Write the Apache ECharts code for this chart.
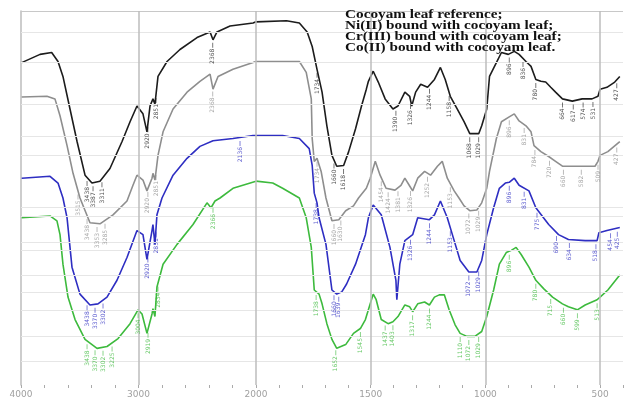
<!DOCTYPE html>
<html><head><meta charset="utf-8">
<script src="https://cdn.jsdelivr.net/npm/echarts@6/dist/echarts.min.js"></script>
<style>html,body{margin:0;padding:0;background:#fff}#c{width:626px;height:399px}</style>
</head><body><div id="c"></div>
<script>
// ---- data (wavenumber cm-1, transmittance arbitrary offset units) ----
const blackWn = [3994,3838,3739,3685,3643,3583,3523,3455,3396,3328,3243,3140,3072,3013,2962,2928,2902,2877,2860,2834,2757,2647,2502,2391,2366,2332,2221,2025,2000,1867,1811,1777,1755,1734,1712,1691,1669,1648,1618,1596,1566,1540,1519,1510,1489,1467,1437,1403,1381,1351,1330,1321,1304,1282,1252,1222,1196,1175,1153,1123,1093,1068,1029,1016,994,982,952,930,900,874,853,823,801,780,758,737,715,694,664,621,578,535,509,500,470,436,414];
const blackT  = [86.2,88.4,88.9,86.5,82.5,73.8,65.1,56.1,54.0,54.5,57.9,65.1,70.4,74.6,72.5,67.7,74.6,76.5,75.1,82.5,86.5,89.7,92.9,94.4,92.3,94.4,96.0,96.8,97.1,97.4,96.8,94.4,90.5,84.4,78.3,69.3,61.4,58.5,58.7,62.4,68.5,74.6,79.1,81.2,83.9,81.0,76.5,73.8,74.6,78.3,77.2,74.6,78.3,80.4,79.6,81.7,84.9,81.7,77.2,73.8,70.4,67.2,67.2,69.3,73.8,82.5,86.2,88.9,88.4,89.2,88.4,86.5,85.2,81.7,81.2,81.0,79.6,78.3,76.5,75.9,76.5,76.5,77.2,79.1,79.6,81.0,82.5];
const blackPk = [3438,3387,3311,2920,2851,2368,1734,1660,1618,1390,1326,1244,1158,1068,1029,896,836,780,664,617,574,531,427];

const grayWn = [3994,3779,3711,3668,3608,3557,3498,3413,3328,3217,3098,3047,3013,2962,2928,2885,2877,2860,2834,2791,2706,2587,2477,2391,2366,2323,2196,2025,2000,1897,1811,1781,1759,1755,1746,1734,1716,1695,1669,1639,1609,1575,1553,1519,1502,1480,1459,1433,1394,1368,1351,1330,1317,1295,1265,1239,1209,1188,1166,1136,1115,1093,1068,1037,1016,994,982,952,930,896,874,853,823,801,788,758,724,694,664,595,522,509,500,466,414];
const grayT  = [77.0,77.2,76.5,72.0,64.0,56.6,50.0,43.4,43.1,45.5,49.2,53.4,56.1,54.8,51.9,55.3,56.6,54.8,61.4,67.7,73.8,78.3,81.2,83.1,79.1,82.5,84.4,86.2,86.5,86.5,86.5,83.6,76.5,65.9,59.8,60.6,57.1,50.0,43.9,44.2,46.6,47.9,50.0,52.6,55.3,59.8,56.1,52.6,52.1,53.4,55.3,53.2,51.9,55.3,57.1,56.1,58.5,59.8,55.3,51.9,50.0,47.9,46.6,46.8,48.7,52.6,57.1,65.9,70.4,71.7,72.5,70.6,69.3,67.7,64.0,62.4,61.1,59.8,58.5,58.5,58.5,59.8,61.4,62.4,65.1];
const grayPk = [3515,3438,3353,3285,2920,2851,2368,1734,1660,1630,1454,1424,1381,1326,1252,1153,1072,1029,896,831,784,720,660,582,509,427];

const blueWn = [3994,3753,3685,3643,3608,3566,3498,3413,3345,3268,3183,3098,3013,2962,2928,2885,2877,2860,2843,2800,2706,2587,2477,2366,2196,2025,2000,1884,1811,1768,1755,1746,1734,1725,1695,1669,1648,1626,1605,1566,1523,1510,1489,1454,1416,1390,1386,1373,1351,1317,1295,1244,1222,1196,1166,1136,1110,1072,1037,1016,994,964,939,913,896,874,853,810,780,724,681,638,565,513,505,470,414];
const blueT  = [55.3,55.8,54.0,50.0,44.7,31.5,24.3,21.4,21.7,23.5,28.0,34.1,41.3,40.2,33.6,41.3,42.9,37.6,45.5,50.0,56.1,60.6,63.8,65.3,65.9,66.7,66.7,66.7,65.9,63.2,58.7,51.3,48.7,44.7,37.6,25.4,24.3,24.9,27.0,32.3,40.2,44.7,48.1,45.5,36.8,28.0,22.8,32.3,38.6,40.2,44.7,44.2,45.5,49.2,44.7,38.6,33.3,30.2,30.2,33.3,40.2,47.4,52.6,54.0,54.2,55.3,53.4,51.9,47.4,42.9,40.2,38.9,38.6,38.6,40.7,41.3,42.1];
const bluePk = [3438,3370,3302,2920,2851,2136,1738,1660,1639,1326,1244,1153,1072,1029,896,831,775,690,634,518,454,425];

const greenWn = [3994,3753,3694,3668,3643,3600,3540,3455,3353,3268,3174,3072,3004,2970,2928,2885,2877,2860,2843,2791,2672,2536,2417,2383,2349,2306,2196,2000,1927,1884,1811,1781,1759,1746,1725,1712,1691,1669,1648,1609,1575,1545,1523,1502,1489,1476,1454,1424,1403,1381,1351,1330,1317,1295,1265,1244,1222,1201,1179,1158,1132,1110,1080,1046,1016,994,964,939,909,887,866,844,810,780,745,707,664,638,599,565,513,500,466,414];
const greenT  = [44.7,45.2,43.9,40.2,32.3,23.5,17.5,12.2,9.8,10.3,12.4,16.4,20.1,19.0,13.8,19.0,20.4,18.3,26.2,32.3,37.6,42.9,48.7,47.4,49.2,50.0,52.6,54.5,54.0,52.6,50.0,44.7,36.8,25.4,24.3,21.7,16.4,12.2,9.8,10.8,13.8,15.1,17.5,21.7,24.3,22.8,17.5,16.4,16.9,18.3,21.4,20.9,19.6,21.7,22.2,21.4,23.5,24.1,24.1,20.1,16.1,13.8,13.0,13.0,14.3,18.3,25.4,32.3,35.4,36.0,36.8,34.9,31.5,28.0,25.7,23.5,21.7,20.9,20.1,21.4,22.8,23.5,25.4,29.4];
const greenPk = [3438,3370,3302,3225,3004,2919,2834,2366,1738,1652,1545,1437,1403,1317,1244,1110,1072,1029,896,780,715,660,599,513];

const legendLines = ['Cocoyam leaf reference;','Ni(II) bound with cocoyam leaf;','Cr(III) bound with cocoyam leaf;','Co(II) bound with cocoyam leaf.'];
const xTickLabels = [4000,3000,2000,1500,1000,500];
const hLevels = [94.4,86.2,75.1,66.4,61.4,47.4,45.2,38.1,36.0,29.4,24.9,20.1,13.0,6.3];
const vLevels = [3000,2000,1500,1000,500];

// ---- build ----
const traces = [
  {name:legendLines[0], wn:blackWn, t:blackT, pk:blackPk, color:'#1c1c1c'},
  {name:legendLines[1], wn:grayWn,  t:grayT,  pk:grayPk,  color:'#8e8e8e'},
  {name:legendLines[2], wn:blueWn,  t:blueT,  pk:bluePk,  color:'#2e2ec2'},
  {name:legendLines[3], wn:greenWn, t:greenT, pk:greenPk, color:'#3dba3d'}
];
function interp(wn, t, w){
  for(let i=0;i<wn.length-1;i++){
    if(w<=wn[i] && w>=wn[i+1]){ const f=(wn[i]-w)/(wn[i]-wn[i+1]); return t[i]+(t[i+1]-t[i])*f; }
  }
  return t[t.length-1];
}
const series=[];
[0,1].forEach(g=>{
  const lines = hLevels.map(v=>({yAxis:v, lineStyle:{color:'#e6e6e6', width:1, type:'solid'}}));
  lines.push({yAxis:100, lineStyle:{color:'#c8c8c8', width:1, type:'solid'}});
  vLevels.filter(v=> g===0 ? v>=3000 : v<=2000).forEach(v=>lines.push({xAxis:v, lineStyle:{color:'#bdbdbd', width:1.5, type:'solid'}}));
  series.push({type:'line', xAxisIndex:g, yAxisIndex:g, data:[], silent:true, z:1,
    markLine:{silent:true, symbol:['none','none'], label:{show:false}, animation:false,
      lineStyle:{type:'solid'}, emphasis:{disabled:true}, data:lines}});
});
traces.forEach(tr=>{
  [0,1].forEach(g=>{
    const inG = w => g===0 ? w>=2000 : w<=2000;
    const data = tr.wn.map((w,i)=>[w,tr.t[i]]).filter(p=>inG(p[0]));
    const pks = tr.pk.filter(w=> g===0 ? w>2000 : w<2000);
    series.push({type:'line', name:tr.name, xAxisIndex:g, yAxisIndex:g, data, showSymbol:false, symbol:'none',
      silent:true, animation:false, z:3,
      lineStyle:{color:tr.color, width:1.6}, itemStyle:{color:tr.color},
      markPoint:{silent:true, animation:false, symbol:'rect', symbolSize:[0.8,5], symbolOffset:[0,6],
        itemStyle:{color:tr.color, opacity:0.75},
        label:{show:true, formatter:p=>String(p.value), rotate:90, fontSize:6, color:tr.color, opacity:0.8,
          position:'bottom', distance:1, align:'right', verticalAlign:'middle', fontFamily:'DejaVu Sans'},
        data: pks.map(w=>({coord:[w, interp(tr.wn,tr.t,w)], value:w}))}
    });
  });
});
const labelStyle = {fontSize:9, color:'#a0a0a0', margin:5, fontFamily:'DejaVu Sans', showMinLabel:true, showMaxLabel:true};
const chart = echarts.init(document.getElementById('c'), null, {renderer:'canvas'});
chart.setOption({
  animation:false,
  backgroundColor:'#ffffff',
  grid:[{left:21, top:11, width:235, height:378},{left:256, top:11, width:372, height:378}],
  xAxis:[
    {type:'value', gridIndex:0, min:2000, max:4000, interval:200, inverse:true,
     axisLine:{show:false}, splitLine:{show:false},
     axisTick:{show:true, length:3, lineStyle:{color:'#aaa'}},
     axisLabel:Object.assign({formatter:v=> xTickLabels.includes(v)?String(v):''}, labelStyle)},
    {type:'value', gridIndex:1, min:400, max:2000, interval:100, inverse:true,
     axisLine:{show:false}, splitLine:{show:false},
     axisTick:{show:true, length:3, lineStyle:{color:'#aaa'}},
     axisLabel:Object.assign({formatter:v=> (xTickLabels.includes(v)&&v!==2000)?String(v):''}, labelStyle)}
  ],
  yAxis:[
    {type:'value', gridIndex:0, min:0, max:100, axisLine:{show:true, lineStyle:{color:'#bdbdbd', width:1.5}}, axisTick:{show:false}, axisLabel:{show:false}, splitLine:{show:false}},
    {type:'value', gridIndex:1, min:0, max:100, axisLine:{show:false}, axisTick:{show:false}, axisLabel:{show:false}, splitLine:{show:false}}
  ],
  graphic:[{type:'text', x:345, y:9, scaleX:1.27, silent:true, z:10,
    style:{text:legendLines.join('\n'), font:'bold 12px "Liberation Serif"', fill:'#111', lineHeight:11}}],
  series
});
</script></body></html>
